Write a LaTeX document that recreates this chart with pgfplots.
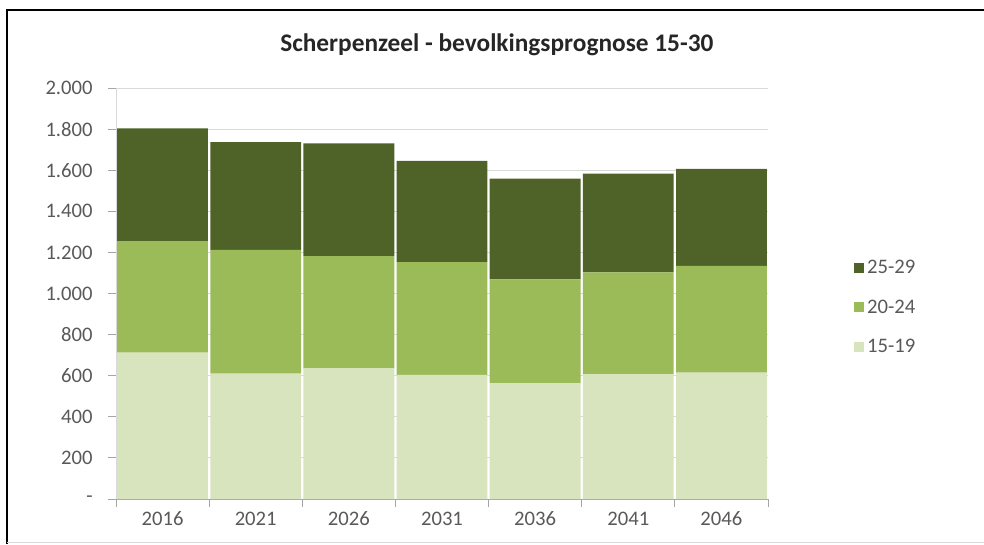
\documentclass[border=0pt]{standalone}
\usepackage{pgfplots}
\pgfplotsset{compat=1.18}
\usepackage{fontspec}
\setmainfont{Carlito}
\definecolor{dk}{HTML}{4F6228}
\definecolor{md}{HTML}{9BBB59}
\definecolor{lt}{HTML}{D7E4BD}
\definecolor{gridc}{HTML}{D9D9D9}
\definecolor{axc}{HTML}{A6A6A6}
\definecolor{txt}{HTML}{595959}
\begin{document}
\begin{tikzpicture}
\path[use as bounding box] (0,0) rectangle (738pt,408pt);
\draw[black,line width=1.5pt] (5.25pt,0) -- (5.25pt,400.5pt) -- (738pt,400.5pt);
\draw[gridc,line width=0.75pt] (5.25pt,1.2pt) -- (738pt,1.2pt);
\node[font=\fontsize{19}{23}\selectfont\bfseries,text=black!85,anchor=base west,inner sep=0pt] at (210pt,369.75pt) {Scherpenzeel - bevolkingsprognose 15-30};
\begin{axis}[
  at={(87pt,33.75pt)}, anchor=south west,
  scale only axis, width=489pt, height=308.25pt,
  ybar stacked, bar width=0.975,
  xmin=-0.5, xmax=6.5, ymin=0, ymax=2000,
  xtick={0,...,6},
  xticklabels={2016,2021,2026,2031,2036,2041,2046},
  minor xtick={-0.5,0.5,...,6.5},
  ytick={0,200,...,2000},
  yticklabels={{-\hspace{6pt}},200,400,600,800,{1.000},{1.200},{1.400},{1.600},{1.800},{2.000}},
  ymajorgrids, grid style={gridc,line width=0.75pt},
  axis x line*=bottom, axis y line*=left,
  x axis line style={axc,line width=0.75pt,-},
  y axis line style={gridc,line width=0.75pt,-},
  tick align=outside,
  major tick length=6pt, minor tick length=6pt,
  major x tick style={draw=none},
  minor x tick style={axc,line width=0.75pt},
  ytick style={axc,line width=0.75pt},
  ticklabel style={font=\fontsize{15.5}{18}\selectfont,text=txt},
  yticklabel style={xshift=-8pt},
  reverse legend,
  legend style={draw=none,fill=none,at={(1.126,0.466)},anchor=west,
    font=\fontsize{15.5}{18}\selectfont,text=txt,
    row sep=14pt,
    /tikz/every odd column/.append style={column sep=0pt}},
  legend cell align=left,
  legend image code/.code={\fill[#1] (0pt,-3.75pt) rectangle (7.5pt,3.75pt);},
]
\addplot[fill=lt,draw=none] coordinates {(0,712) (1,610) (2,636) (3,604) (4,563) (5,608) (6,615)};
\addplot[fill=md,draw=none] coordinates {(0,543) (1,602) (2,546) (3,549) (4,506) (5,495) (6,519)};
\addplot[fill=dk,draw=none] coordinates {(0,549) (1,525) (2,549) (3,492) (4,490) (5,480) (6,472)};
\legend{15-19,20-24,25-29}
\end{axis}
\end{tikzpicture}
\end{document}
